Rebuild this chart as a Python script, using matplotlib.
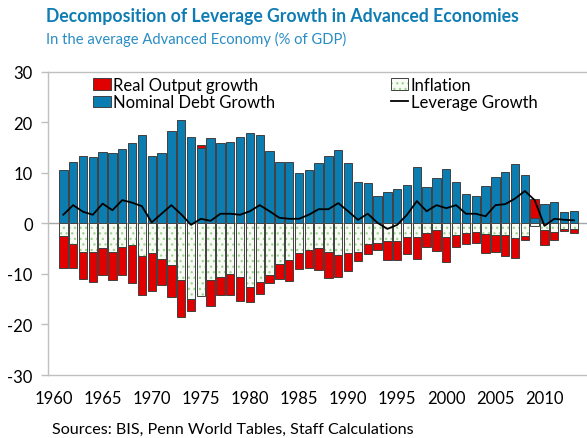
import numpy as np
import matplotlib
matplotlib.use('Agg')
import matplotlib.pyplot as plt
from matplotlib.patches import Patch
from matplotlib.lines import Line2D

plt.rcParams['font.family'] = ['Lato', 'DejaVu Sans']
plt.rcParams['hatch.linewidth'] = 0.9
plt.rcParams['axes.unicode_minus'] = False

# Data (% of GDP), 1961-2013
years = list(range(1961, 2014))
nominal_debt = [10.5, 12.2, 13.4, 13.2, 14.2, 13.9, 14.8, 15.8, 17.4, 13.4,
                13.9, 18.2, 20.4, 17.1, 15.0, 16.8, 15.9, 16.0, 17.0, 17.8,
                17.4, 14.3, 12.2, 12.2, 10.0, 10.5, 12.0, 13.4, 14.6, 12.0,
                8.1, 7.9, 5.5, 6.3, 6.7, 7.6, 11.2, 7.1, 9.0, 10.8,
                8.1, 5.8, 5.5, 7.3, 9.1, 10.2, 11.7, 9.6, 1.1, 3.9,
                4.2, 2.2, 2.4]
inflation = [-2.6, -4.0, -5.6, -5.6, -4.8, -5.6, -4.6, -4.2, -6.5, -5.9,
             -7.1, -8.2, -11.3, -14.9, -14.4, -11.2, -10.6, -10.0, -10.6, -12.5,
             -11.6, -10.2, -8.0, -7.2, -5.8, -5.2, -4.8, -5.6, -6.3, -5.8,
             -5.6, -4.0, -3.8, -3.4, -3.4, -2.7, -2.7, -2.0, -1.3, -2.7,
             -2.4, -1.9, -1.7, -2.2, -2.4, -2.4, -2.8, -2.6, -0.5, -1.4,
             -1.7, -1.2, -1.1]
real_output = [-6.2, -4.8, -5.5, -6.0, -5.4, -5.6, -5.6, -7.6, -7.6, -7.5,
               -5.1, -6.3, -7.2, -2.5, 0.5, -5.1, -3.5, -4.1, -4.8, -3.0,
               -2.3, -1.6, -3.0, -4.2, -3.3, -3.7, -4.4, -5.2, -4.4, -3.7,
               -1.9, -2.0, -1.5, -3.9, -3.8, -3.3, -4.3, -2.6, -4.2, -5.0,
               -2.2, -2.1, -2.1, -3.7, -3.2, -4.1, -4.1, -0.6, 3.7, -2.9,
               -1.5, -0.3, -0.8]
leverage = [1.7, 3.6, 2.3, 1.7, 3.9, 2.6, 4.6, 4.1, 3.4, 0.2,
            1.9, 3.6, 1.8, -0.3, 0.9, 0.5, 1.9, 1.9, 1.7, 2.4,
            3.6, 2.4, 1.1, 0.9, 0.9, 1.7, 2.8, 2.8, 4.0, 2.4,
            0.7, 1.9, 0.1, -1.1, -0.3, 1.7, 4.4, 2.4, 3.6, 3.0,
            3.6, 1.9, 1.9, 1.4, 3.6, 3.8, 4.9, 6.4, 4.6, -0.5,
            0.9, 0.7, 0.6]
tick_years = [1960, 1965, 1970, 1975, 1980, 1985, 1990, 1995, 2000, 2005, 2010]
y_ticks = [-30, -20, -10, 0, 10, 20, 30]

blue = '#0b7db0'
red = '#e00000'
dot_green = '#9dd391'
dot_fill = '#f7fbf4'
edge = '#404040'
axis_grey = '#bfbfbf'

fig = plt.figure(figsize=(5.87, 4.39), dpi=100)
ax = fig.add_axes([0.0818, 0.1435, 0.9182, 0.6909])

x = np.array(years)
nom = np.array(nominal_debt)
infl = np.array(inflation)
real = np.array(real_output)
width = 0.85

# Nominal debt growth (positive side)
ax.bar(x, nom, width, color=blue, edgecolor=edge, linewidth=0.7, zorder=2)
# Inflation: dotted fill first, outline on top
ax.bar(x, infl, width, color=dot_fill, edgecolor=dot_green, hatch='...',
       linewidth=0, zorder=2)
ax.bar(x, infl, width, fill=False, edgecolor=edge, linewidth=0.7, zorder=2)
# Real output growth stacks on whichever side it points to
red_bottom = np.where(real > 0, nom, infl)
ax.bar(x, real, width, bottom=red_bottom, color=red, edgecolor=edge,
       linewidth=0.7, zorder=2)
# Leverage growth line
ax.plot(x, leverage, color='black', linewidth=1.3, zorder=3)

ax.axhline(0, color='#a6a6a6', linewidth=1, zorder=1)

ax.set_xlim(1959.44, 2014.33)
ax.set_ylim(-30, 30)
ax.set_xticks(tick_years)
ax.set_yticks(y_ticks)
ax.tick_params(axis='x', length=0, pad=11, labelsize=12, colors='black')
ax.tick_params(axis='y', length=5, width=1, color=axis_grey, pad=6,
               labelsize=12)
for side in ['left', 'top', 'bottom']:
    ax.spines[side].set_color(axis_grey)
    ax.spines[side].set_linewidth(1)
ax.spines['right'].set_visible(False)

# Legend, two columns
handles = [
    Patch(facecolor=red, edgecolor=edge, linewidth=0.7),
    Patch(facecolor=blue, edgecolor=edge, linewidth=0.7),
    (Patch(facecolor=dot_fill, edgecolor=dot_green, hatch='...', linewidth=0),
     Patch(fill=False, edgecolor=edge, linewidth=0.7)),
    Line2D([], [], color='black', linewidth=1.3),
]
labels = ['Real Output growth', 'Nominal Debt Growth', 'Inflation',
          'Leverage Growth']
ax.legend(handles, labels, ncol=2, loc='upper left',
          bbox_to_anchor=(0.078, 0.995), frameon=False, fontsize=12,
          handlelength=1.05, handleheight=0.7, handletextpad=0.15,
          labelspacing=0.1, columnspacing=6.9, borderaxespad=0,
          borderpad=0.2)

fig.text(0.078, 0.963, 'Decomposition of Leverage Growth in Advanced Economies',
         fontsize=12.7, fontweight='bold', color='#0f7db4', va='center')
fig.text(0.078, 0.909, 'In the average Advanced Economy (% of GDP)',
         fontsize=10.6, color='#2a8cc4', va='center')
fig.text(0.0886, 0.0205, 'Sources: BIS, Penn World Tables, Staff Calculations',
         fontsize=11.6, color='black', va='center')

fig.savefig('out.png', dpi=100)
